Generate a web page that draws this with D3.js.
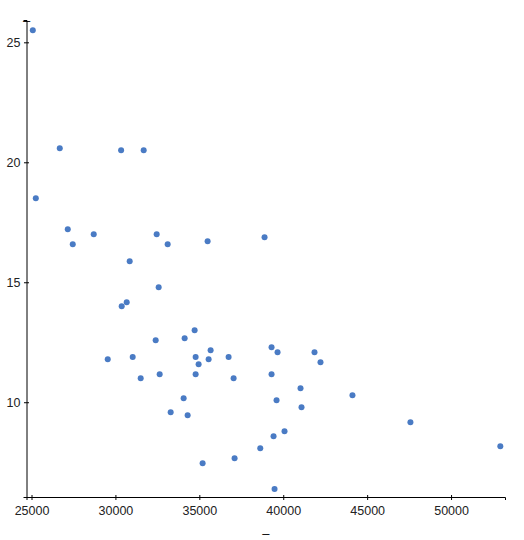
<!DOCTYPE html>
<html><head><meta charset="utf-8">
<script src="https://cdn.jsdelivr.net/npm/d3@7"></script>
<style>body{margin:0;background:#fff}svg{display:block}text{font-family:"Liberation Sans",Arial,sans-serif}</style>
</head><body>
<svg id="c" width="524" height="540"></svg>
<script>
const xValues = [25077,26685,30339,31685,25256,27161,27458,28708,32458,33113,30851,35494,38887,32577,30673,30375,34720,34125,32399,35673,34780,35554,36744,34958,34780,37042,39304,39661,41863,42220,39304,29542,31030,31506,32637,33292,41030,34065,39601,34304,41089,40077,39423,38631,37101,35196,39482,44125,47578,52935];
const yValues = [25.5,20.58,20.5,20.5,18.5,17.21,16.58,17.0,17.0,16.58,15.88,16.71,16.88,14.79,14.17,14.0,13.0,12.67,12.58,12.17,11.88,11.79,11.88,11.58,11.17,11.0,12.29,12.08,12.08,11.67,11.17,11.79,11.88,11.0,11.17,9.58,10.58,10.17,10.08,9.46,9.79,8.79,8.58,8.08,7.67,7.46,6.38,10.29,9.17,8.17];
const xTicks = [25000,30000,35000,40000,45000,50000];
const yTicks = [10,15,20,25];
const xTitle = "–", yTitle = "–";

(function(){
const svg = d3.select("#c");
const mLeft = 26.5, mRight = 505, mTop = 20, mBottom = 497;
const x = d3.scaleLinear().domain([24702, 53214]).range([mLeft, mRight]);
const y = d3.scaleLinear().domain([6.05, 25.93]).range([mBottom, mTop]);

const xa = svg.append("g").attr("transform", `translate(0,${mBottom})`)
  .call(d3.axisBottom(x).tickValues(xTicks).tickFormat(d3.format("d")).tickSizeOuter(0).tickSize(3));
xa.select(".domain").attr("stroke","#000");
xa.selectAll(".tick line").attr("y1",-2).attr("y2",3).attr("stroke","#000");
xa.selectAll(".tick text").attr("y",9).attr("font-size",12.5).attr("fill","#222").attr("font-family","Liberation Sans, Arial, sans-serif");

const ya = svg.append("g").attr("transform", `translate(${mLeft},0)`)
  .call(d3.axisLeft(y).tickValues(yTicks).tickSizeOuter(0).tickSize(3));
ya.select(".domain").attr("stroke","#000");
ya.selectAll(".tick line").attr("x1",2.5).attr("x2",-2.5).attr("stroke","#000");
ya.selectAll(".tick text").attr("x",-6).attr("font-size",12.5).attr("fill","#222").attr("font-family","Liberation Sans, Arial, sans-serif");

svg.append("text").attr("x",(mLeft+mRight)/2).attr("y",538).attr("text-anchor","middle")
  .attr("font-size",13).attr("fill","#000").text(xTitle);
svg.append("text").attr("x",mLeft).attr("y",mTop+4.5).attr("text-anchor","middle")
  .attr("font-size",13).attr("fill","#000").text(yTitle);

svg.append("g").selectAll("circle").data(xValues.map((v,i)=>[v,yValues[i]])).join("circle")
  .attr("cx",d=>x(d[0])).attr("cy",d=>y(d[1])).attr("r",3).attr("fill","#4a7bc4");
})();
</script>
</body></html>
